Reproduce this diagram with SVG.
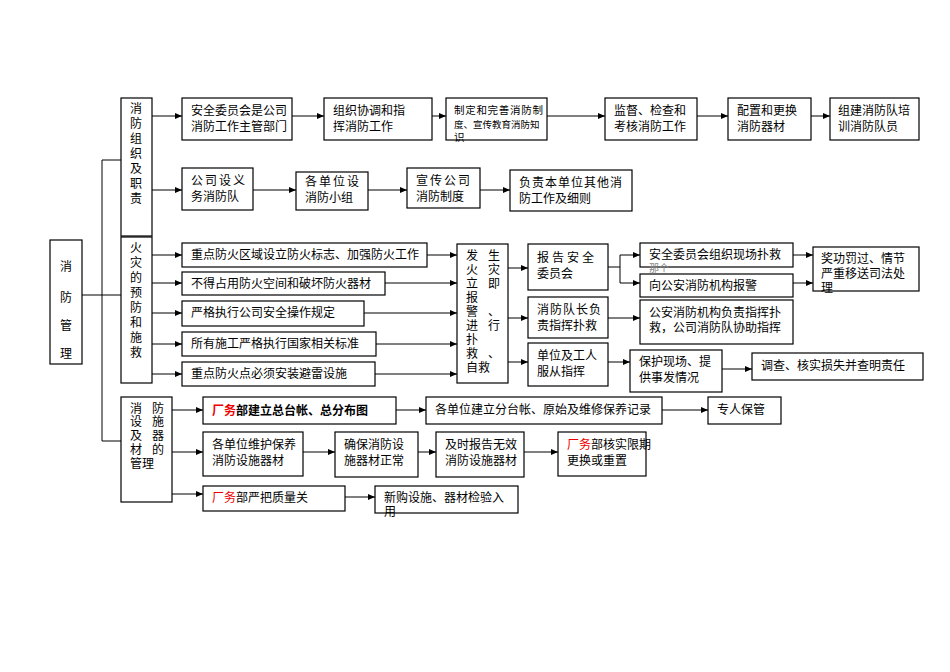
<svg xmlns="http://www.w3.org/2000/svg" width="950" height="672" viewBox="0 0 950 672">
<defs><marker id="a" markerWidth="8" markerHeight="8" refX="7" refY="4" orient="auto" markerUnits="userSpaceOnUse"><path d="M0,1 L7,4 L0,7z" fill="#000"/></marker></defs>
<style>
rect{fill:#fff;stroke:#000;stroke-width:1.2}
text{font-family:"Liberation Sans","Noto Sans CJK SC",sans-serif;font-size:12px;fill:#000}
.l{fill:none;stroke:#000;stroke-width:1}
line{stroke:#000;stroke-width:1;marker-end:url(#a)}
.r{fill:#e00}
.b{font-weight:bold}
</style>
<rect x="0" y="0" width="950" height="672" style="stroke:none"/>
<g id="connectors">
<path class="l" d="M82,295 H121 M102,160 V441 M102,160 H121 M102,441 H121"/>
<line x1="152" y1="116" x2="182" y2="116"/><line x1="292" y1="116" x2="324" y2="116"/><line x1="432" y1="116" x2="446" y2="116"/><line x1="547" y1="116" x2="605" y2="116"/><line x1="697" y1="116" x2="728" y2="116"/><line x1="811" y1="116" x2="830" y2="116"/>
<line x1="152" y1="190" x2="182" y2="190"/><line x1="253" y1="190" x2="296" y2="190"/><line x1="368" y1="190" x2="407" y2="190"/><line x1="480" y1="190" x2="510" y2="190"/>
<line x1="152" y1="255" x2="182" y2="255"/><line x1="152" y1="283" x2="182" y2="283"/><line x1="152" y1="313" x2="182" y2="313"/><line x1="152" y1="344" x2="182" y2="344"/><line x1="152" y1="374" x2="182" y2="374"/>
<line x1="427" y1="255" x2="457" y2="255"/><line x1="385" y1="283" x2="457" y2="283"/><line x1="364" y1="313" x2="457" y2="313"/><line x1="376" y1="344" x2="457" y2="344"/><line x1="375" y1="374" x2="457" y2="374"/>
<line x1="508" y1="268" x2="528" y2="268"/><line x1="508" y1="318" x2="528" y2="318"/><line x1="508" y1="362" x2="528" y2="362"/>
<path class="l" d="M608,267 H620 M620,255 V283"/>
<line x1="620" y1="255" x2="640" y2="255"/><line x1="620" y1="283" x2="640" y2="283"/><line x1="793" y1="255" x2="813" y2="255"/><line x1="793" y1="283" x2="813" y2="283"/><line x1="608" y1="318" x2="640" y2="318"/><line x1="608" y1="362" x2="630" y2="362"/><line x1="722" y1="369" x2="752" y2="369"/>
<line x1="172" y1="410" x2="203" y2="410"/><line x1="396" y1="410" x2="426" y2="410"/><line x1="662" y1="410" x2="708" y2="410"/>
<line x1="172" y1="452" x2="203" y2="452"/><line x1="303" y1="452" x2="335" y2="452"/><line x1="418" y1="452" x2="436" y2="452"/><line x1="524" y1="452" x2="558" y2="452"/>
<line x1="172" y1="494" x2="203" y2="494"/><line x1="345" y1="497" x2="375" y2="497"/>
</g>
<g id="n0"><rect x="50" y="240" width="32" height="124"/><text x="60" y="271">消</text><text x="60" y="302">防</text><text x="60" y="330">管</text><text x="60" y="358">理</text></g>
<g id="s1"><rect x="121" y="98" width="31" height="138"/><text x="130" y="113">消</text><text x="130" y="128">防</text><text x="130" y="143">组</text><text x="130" y="158">织</text><text x="130" y="173">及</text><text x="130" y="188">职</text><text x="130" y="203">责</text></g>
<g id="s2"><rect x="121" y="237" width="31" height="146"/><text x="130" y="252">火</text><text x="130" y="267">灾</text><text x="130" y="282">的</text><text x="130" y="297">预</text><text x="130" y="312">防</text><text x="130" y="327">和</text><text x="130" y="342">施</text><text x="130" y="357">救</text></g>
<g id="s3"><rect x="121" y="397" width="51" height="105"/><text x="130" y="413">消</text><text x="152" y="413">防</text><text x="130" y="426">设</text><text x="152" y="426">施</text><text x="130" y="440">及</text><text x="152" y="440">器</text><text x="130" y="454">材</text><text x="152" y="454">的</text><text x="130" y="468">管理</text></g>
<g id="b1"><rect x="182" y="98" width="110" height="42"/><text x="191" y="115">安全委员会是公司</text><text x="191" y="131">消防工作主管部门</text></g>
<g id="b2"><rect x="324" y="98" width="108" height="42"/><text x="333" y="115">组织协调和指</text><text x="333" y="131">挥消防工作</text></g>
<g id="b3"><rect x="446" y="98" width="101" height="42"/><text x="454" y="114" style="font-size:10.5px;letter-spacing:0.7px">制定和完善消防制</text><text x="454" y="128" style="font-size:9.5px">度、宣传教育消防知</text><text x="454" y="141" style="font-size:10.5px">识</text></g>
<g id="b4"><rect x="605" y="98" width="92" height="42"/><text x="614" y="115">监督、检查和</text><text x="614" y="131">考核消防工作</text></g>
<g id="b5"><rect x="728" y="98" width="83" height="42"/><text x="737" y="115">配置和更换</text><text x="737" y="131">消防器材</text></g>
<g id="b6"><rect x="830" y="98" width="89" height="42"/><text x="838" y="115">组建消防队培</text><text x="838" y="131">训消防队员</text></g>
<g id="c1"><rect x="182" y="168" width="71" height="42"/><text x="191" y="185" style="letter-spacing:2px">公司设义</text><text x="191" y="201">务消防队</text></g>
<g id="c2"><rect x="296" y="172" width="72" height="38"/><text x="305" y="186" style="letter-spacing:2px">各单位设</text><text x="305" y="202">消防小组</text></g>
<g id="c3"><rect x="407" y="168" width="73" height="40"/><text x="416" y="185" style="letter-spacing:2px">宣传公司</text><text x="416" y="201">消防制度</text></g>
<g id="c4"><rect x="510" y="170" width="122" height="41"/><text x="519" y="187" style="letter-spacing:1px">负责本单位其他消</text><text x="519" y="203">防工作及细则</text></g>
<g id="r1"><rect x="182" y="243" width="245" height="24"/><text x="191" y="259">重点防火区域设立防火标志、加强防火工作</text></g>
<g id="r2"><rect x="182" y="272" width="203" height="23"/><text x="191" y="288">不得占用防火空间和破坏防火器材</text></g>
<g id="r3"><rect x="182" y="301" width="182" height="25"/><text x="191" y="317">严格执行公司安全操作规定</text></g>
<g id="r4"><rect x="182" y="332" width="194" height="24"/><text x="191" y="348">所有施工严格执行国家相关标准</text></g>
<g id="r5"><rect x="182" y="362" width="193" height="24"/><text x="191" y="378">重点防火点必须安装避雷设施</text></g>
<g id="f"><rect x="457" y="244" width="51" height="139"/>
<text x="466" y="260">发</text><text x="488" y="260">生</text><text x="466" y="274">火</text><text x="488" y="274">灾</text><text x="466" y="288">立</text><text x="488" y="288">即</text><text x="466" y="302">报</text><text x="466" y="316">警</text><text x="488" y="316">、</text><text x="466" y="330">进</text><text x="488" y="330">行</text><text x="466" y="344">扑</text><text x="466" y="358">救</text><text x="488" y="358">、</text><text x="466" y="372">自救</text></g>
<g id="g1"><rect x="528" y="244" width="80" height="46"/><text x="537" y="262" style="letter-spacing:3px">报告安全</text><text x="537" y="278">委员会</text></g>
<g id="g2"><rect x="528" y="297" width="80" height="41"/><text x="537" y="314" style="letter-spacing:1px">消防队长负</text><text x="537" y="330">责指挥扑救</text></g>
<g id="g3"><rect x="528" y="343" width="80" height="43"/><text x="537" y="360">单位及工人</text><text x="537" y="376">服从指挥</text></g>
<g id="h1"><rect x="640" y="243" width="153" height="24"/><text x="649" y="259">安全委员会组织现场扑救</text><text x="649" y="272" style="font-size:10px;fill:#888">那个</text></g>
<g id="h2"><rect x="640" y="274" width="153" height="23"/><text x="649" y="290">向公安消防机构报警</text></g>
<g id="h3"><rect x="813" y="247" width="106" height="44"/><text x="821" y="263">奖功罚过、情节</text><text x="821" y="278">严重移送司法处</text><text x="821" y="292">理</text></g>
<g id="h4"><rect x="640" y="300" width="153" height="44"/><text x="649" y="317">公安消防机构负责指挥扑</text><text x="649" y="332">救，公司消防队协助指挥</text></g>
<g id="h5"><rect x="630" y="350" width="92" height="42"/><text x="639" y="366">保护现场、提</text><text x="639" y="382">供事发情况</text></g>
<g id="h6"><rect x="752" y="353" width="171" height="27"/><text x="761" y="370">调查、核实损失并查明责任</text></g>
<g id="d1"><rect x="203" y="397" width="193" height="27"/><text x="212" y="415" class="b"><tspan class="r">厂务</tspan>部建立总台帐、总分布图</text></g>
<g id="d2"><rect x="426" y="397" width="236" height="27"/><text x="435" y="414">各单位建立分台帐、原始及维修保养记录</text></g>
<g id="d3"><rect x="708" y="397" width="73" height="27"/><text x="717" y="414">专人保管</text></g>
<g id="e1"><rect x="203" y="432" width="100" height="44"/><text x="212" y="449">各单位维护保养</text><text x="212" y="465">消防设施器材</text></g>
<g id="e2"><rect x="335" y="432" width="83" height="45"/><text x="344" y="449">确保消防设</text><text x="344" y="465">施器材正常</text></g>
<g id="e3"><rect x="436" y="432" width="88" height="45"/><text x="445" y="449">及时报告无效</text><text x="445" y="465">消防设施器材</text></g>
<g id="e4"><rect x="558" y="432" width="88" height="44"/><text x="567" y="449"><tspan class="r">厂务</tspan>部核实限期</text><text x="567" y="465">更换或重置</text></g>
<g id="f1"><rect x="203" y="486" width="142" height="25"/><text x="212" y="502"><tspan class="r">厂务</tspan>部严把质量关</text></g>
<g id="f2"><rect x="375" y="486" width="143" height="27"/><text x="384" y="502">新购设施、器材检验入</text><text x="384" y="516">用</text></g>
</svg>
